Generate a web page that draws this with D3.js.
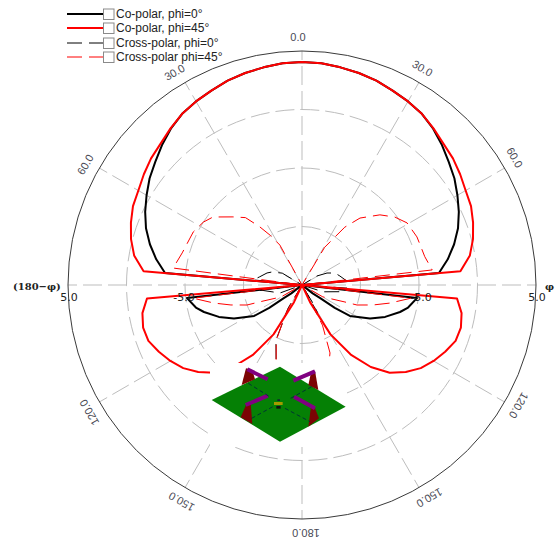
<!DOCTYPE html>
<html><head><meta charset="utf-8">
<script src="https://cdn.jsdelivr.net/npm/d3@7/dist/d3.min.js"></script>
<style>html,body{margin:0;padding:0;background:#fff}svg{display:block}</style>
</head><body><div id="c"></div>
<script>
const legendLabels = ["Co-polar, phi=0°","Co-polar, phi=45°","Cross-polar, phi=0°","Cross-polar phi=45°"];
const radialTicks = [-15,-10,-5,0,5];
const radialLabels = [5,-5];
const angleTicks = [0,30,60,90,120,150,180,-150,-120,-90,-60,-30];
const angleLabels = [0,30,60,120,150,180,-150,-120,-60,-30];

const coPol0Angles = [-135,-128,-125.8,-125,-122.9,-116.2,-111,-105.4,-102,-96.5,-90,-85,-80,-75,-70,-65,-60,-55,-50,-45,-40,-35,-30,-25,-20,-15,-10,-5,0,5,10,15,20,25,30,35,40,45,50,55,60,65,70,75,80,85,90,96.5,102,105.4,111,116.2,122.9,125,125.8,128,135];
const coPol0Values = [-15,-13.84,-13.12,-11.58,-10.13,-8.52,-7.39,-6.31,-5.73,-5.11,-15,-3.25,-2.35,-1.54,-0.81,-0.21,0.34,0.9,1.37,1.92,2.44,2.86,3.12,3.33,3.59,3.76,3.89,4.02,4.06,4.02,3.89,3.76,3.59,3.33,3.12,2.86,2.44,1.92,1.37,0.9,0.34,-0.21,-0.81,-1.54,-2.35,-3.25,-15,-5.11,-5.73,-6.31,-7.39,-8.52,-10.13,-11.58,-13.12,-13.84,-15];

const coPol45Angles = [-160,-155,-150,-145,-140,-135,-130,-125,-120,-115,-110,-105,-100,-95,-90,-85,-80,-75,-70,-65,-60,-55,-50,-45,-40,-35,-30,-25,-20,-15,-10,-5,0,5,10,15,20,25,30,35,40,45,50,55,60,65,70,75,80,85,90,95,100,105,110,115,120,125,130,135,140,145,150,155,160];
const coPol45Values = [-15,-13.38,-10.13,-7.74,-5.85,-4.4,-3.42,-2.61,-2.01,-1.5,-1.03,-0.94,-1.15,-1.7,-15,-1.41,-0.43,0.13,0.56,0.94,1.15,1.5,1.84,2.09,2.48,2.86,3.12,3.33,3.59,3.76,3.89,4.02,4.06,4.02,3.89,3.76,3.59,3.33,3.12,2.86,2.48,2.09,1.84,1.5,1.15,0.94,0.56,0.13,-0.43,-1.41,-15,-1.7,-1.15,-0.94,-1.03,-1.5,-2.01,-2.61,-3.42,-4.4,-5.85,-7.74,-10.13,-13.38,-15];

const crossPol0Angles = [-165,-161.6,-154.7,-149,-145,-115,-110,-96.8,-90,-84,-79,-71,-66.6,-59,-55,55,59,64.4,70,76.7,85,90,94,100,108,115,145,149,151,156];
const crossPol0Values = [-6.5,-7.99,-9.79,-12.69,-15,-15,-13,-11.38,-15,-10.81,-11.32,-11.84,-12.2,-13.03,-15,-15,-13.5,-12.63,-12,-11.67,-11.15,-15,-11.15,-11.7,-13.12,-15,-15,-13.2,-12.26,-15];

const crossPol45Angles = [-165,-161.6,-155,-150,-145,-125,-119.7,-111.6,-110,-105.7,-101.6,-96.9,-90,-82.5,-75,-64,-57.5,-52.6,-45.4,-40,-36,-32.6,-29,-25,25,31,36.5,40.9,48,53.8,59.4,67.3,77,83.4,90,96.9,101.6,105.7,110,111.6,119.7,125,150,153,157.6,160.9,165];
const crossPol45Values = [-6.45,-7.99,-9.79,-12.4,-15,-15,-12.95,-11.05,-10,-8.69,-7.32,-5.62,-15,-3.89,-4.4,-4.66,-5,-5.43,-6.71,-7.48,-8.85,-9.96,-11.1,-15,-15,-11.24,-8.85,-7.43,-6.04,-5.17,-4.57,-4.35,-4.23,-3.8,-15,-5.62,-7.32,-8.69,-10,-11.05,-12.95,-15,-15,-11.15,-8.72,-7.95,-6.45];

const W=555,H=540,cx=302,cy=285,R=234;
const svg=d3.select("#c").append("svg").attr("width",W).attr("height",H);
const g=svg.append("g").attr("transform",`translate(${cx},${cy})`);
const r=d3.scaleLinear().domain([-15,5]).range([0,R]).clamp(true);
const rad=d=>d*Math.PI/180;
const FONT="'Liberation Sans',Arial,sans-serif";
const gridCol="#bdbdbd";

// grid
g.selectAll(".ring").data(radialTicks.slice(1,-1)).join("circle").attr("r",d=>r(d))
 .attr("fill","none").attr("stroke",gridCol).attr("stroke-width",1).attr("stroke-dasharray","19 6");
g.selectAll(".spoke").data(angleTicks).join("line")
 .attr("x1",0).attr("y1",0)
 .attr("x2",d=>R*Math.sin(rad(d))).attr("y2",d=>-R*Math.cos(rad(d)))
 .attr("stroke",gridCol).attr("stroke-width",1).attr("stroke-dasharray","19 6");
g.append("circle").attr("r",R).attr("fill","none").attr("stroke","#3a3a3a").attr("stroke-width",1);

// curves
const line=d3.lineRadial().angle(d=>rad(d[0])).radius(d=>r(d[1])).curve(d3.curveLinear);
const series=[
 {a:coPol0Angles,v:coPol0Values,c:"#000",w:2,dash:null},
 {a:crossPol0Angles,v:crossPol0Values,c:"#000",w:1,dash:"15 7"},
 {a:crossPol45Angles,v:crossPol45Values,c:"#f00",w:1,dash:"15 7"},
 {a:coPol45Angles,v:coPol45Values,c:"#f00",w:2,dash:null}
];
series.forEach(s=>{
 g.append("path").attr("d",line(d3.zip(s.a,s.v))).attr("fill","none")
  .attr("stroke",s.c).attr("stroke-width",s.w).attr("stroke-linejoin","round")
  .attr("stroke-dasharray",s.dash);
});

// angle labels
g.selectAll(".al").data(angleLabels).join("text")
 .attr("transform",d=>`translate(${248*Math.sin(rad(d))},${-248*Math.cos(rad(d))}) rotate(${d})`)
 .attr("x",-4).attr("y",4).attr("text-anchor","middle")
 .attr("font-family",FONT).attr("font-size",11).attr("fill","#4a4a55")
 .text(d=>Math.abs(d).toFixed(1));

// radial labels
[1,-1].forEach(sign=>{
 g.selectAll(null).data(radialLabels).join("text")
  .attr("x",d=>sign*r(d)+(d<0?(sign>0?2:-1):1)).attr("y",16).attr("text-anchor","middle")
  .attr("font-family","'DejaVu Sans',sans-serif").attr("font-size",11).attr("fill","#222")
  .text(d=>d.toFixed(1));
});
svg.append("text").attr("x",13).attr("y",290).attr("font-family","'DejaVu Serif',serif").attr("font-weight","bold").attr("font-size",10).attr("fill","#222").text("(180−φ)");
svg.append("text").attr("x",545).attr("y",290).attr("font-family","'DejaVu Serif',serif").attr("font-weight","bold").attr("font-size",10).attr("fill","#222").text("φ");

// inset picture of the antenna, on its white backing
const inset=svg.append("g");
inset.append("rect").attr("x",210).attr("y",363).attr("width",137).attr("height",84).attr("fill","#fff");
const pic=inset.append("g").attr("transform","translate(200,340) scale(0.3333)");
pic.append("polygon").attr("points","240,80 437,200 240,305 35,180").attr("fill","#058005");
const posts=["125,135 138,85 157,90 165,118","345,92 355,150 325,135 333,98","138,195 122,232 157,252 152,188","345,205 357,235 325,260 333,200"];
pic.selectAll(".p").data(posts).join("polygon").attr("points",d=>d).attr("fill","#7c0404");
const strips=[[142,88,203,118],[137,195,203,167],[280,122,345,94],[282,170,345,205]];
pic.selectAll(".s").data(strips).join("line").attr("x1",d=>d[0]).attr("y1",d=>d[1]).attr("x2",d=>d[2]).attr("y2",d=>d[3])
 .attr("stroke","#800080").attr("stroke-width",12);
const feeds=[[145,130,212,172],[155,235,222,198],[272,175,335,140],[255,205,330,245]];
pic.selectAll(".f").data(feeds).join("line").attr("x1",d=>d[0]).attr("y1",d=>d[1]).attr("x2",d=>d[2]).attr("y2",d=>d[3])
 .attr("stroke","#033").attr("stroke-width",3).attr("stroke-dasharray","12 8");
pic.append("rect").attr("x",222).attr("y",186).attr("width",26).attr("height",9).attr("fill","#a39a00");
pic.append("rect").attr("x",229).attr("y",198).attr("width",13).attr("height",8).attr("fill","#111");
pic.append("rect").attr("x",232).attr("y",178).attr("width",8).attr("height",5).attr("fill","#123");

// legend
const ly=[14,28,43,57];
legendLabels.forEach((t,i)=>{
 const s=[series[0],series[3],series[1],series[2]][i];
 svg.append("line").attr("x1",67).attr("x2",103).attr("y1",ly[i]).attr("y2",ly[i])
  .attr("stroke",s.c).attr("stroke-width",s.w).attr("stroke-dasharray",s.dash);
 svg.append("rect").attr("x",103.5).attr("y",ly[i]-5).attr("width",10.5).attr("height",10.5)
  .attr("fill","#fff").attr("stroke","#8a8a8a").attr("stroke-width",1);
 svg.append("text").attr("x",116).attr("y",ly[i]+4).attr("font-family",FONT).attr("font-size",12).attr("fill","#222").text(t);
});
</script></body></html>
